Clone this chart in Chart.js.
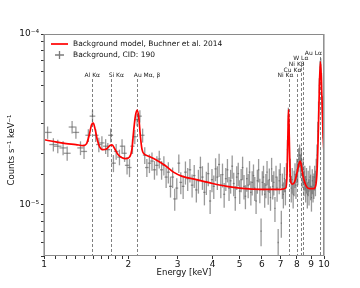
<!DOCTYPE html>
<html>
<head>
<meta charset="utf-8">
<script src="https://cdn.jsdelivr.net/npm/chart.js@4.4.0/dist/chart.umd.min.js"></script>
<style>
  html, body { margin: 0; padding: 0; background: #fff; }
</style>
</head>
<body>
<canvas id="chart" width="360" height="288"></canvas>
<script>
// Spectrum values are in units of 1e-5 counts s^-1 keV^-1
const UNIT = 1e-5;
const BIN_HALF_WIDTH = 0.035;

// Background spectrum (bin centres, keV)
const energy = [
  1.03, 1.08, 1.12, 1.17, 1.21, 1.26, 1.30, 1.35, 1.39, 1.44,
  1.49, 1.53, 1.57, 1.61, 1.66, 1.69, 1.73, 1.77, 1.81, 1.86,
  1.90, 1.94, 1.98, 2.02, 2.07, 2.11, 2.15, 2.20, 2.25, 2.29,
  2.33, 2.38, 2.43, 2.48, 2.53, 2.58, 2.63, 2.68, 2.73, 2.78,
  2.83, 2.88, 2.93, 2.98, 3.03, 3.08,
  3.14, 3.20, 3.26, 3.32, 3.38, 3.44, 3.50, 3.56, 3.62, 3.68,
  3.74, 3.80, 3.86, 3.92, 3.98, 4.04, 4.10, 4.16, 4.22, 4.28,
  4.34, 4.40, 4.46, 4.52, 4.58, 4.64, 4.70, 4.76, 4.82, 4.88,
  4.94, 5.00, 5.06, 5.12, 5.18, 5.24, 5.30, 5.36, 5.42, 5.48,
  5.54, 5.60, 5.66, 5.72, 5.78, 5.84, 5.90, 5.96, 6.02, 6.08,
  6.14, 6.20, 6.26, 6.32, 6.38, 6.44, 6.50, 6.56, 6.62, 6.68,
  6.74, 6.80, 6.86, 6.92, 6.98,
  7.04, 7.10, 7.16, 7.22, 7.28, 7.34, 7.40, 7.46, 7.52, 7.58,
  7.64, 7.70, 7.76, 7.82, 7.88, 7.94, 8.00, 8.06, 8.12, 8.18,
  8.24, 8.30, 8.36, 8.42, 8.48, 8.54, 8.60, 8.66, 8.72, 8.78,
  8.84, 8.90, 8.96, 9.02, 9.08, 9.14, 9.20, 9.26, 9.32, 9.38,
  9.44, 9.50, 9.56, 9.62, 9.68, 9.74, 9.80, 9.86, 9.92, 9.98
];
const counts = [
  2.65, 2.25, 2.20, 2.15, 2.00, 2.85, 2.65, 2.15, 2.05, 2.55,
  3.30, 2.55, 2.25, 2.30, 2.20, 2.10, 2.55, 1.75, 2.05, 1.90,
  2.20, 2.00, 1.70, 1.65, 2.20, 2.50, 3.15, 3.30, 2.55, 1.95,
  1.65, 1.75, 1.80, 1.60, 1.70, 1.85, 1.60, 1.70, 1.45, 1.55,
  1.28, 1.45, 1.08, 1.25, 1.75, 1.35,
  1.28, 1.55, 1.42, 1.60, 1.30, 1.48, 1.22, 1.38, 1.65, 1.45,
  1.18, 1.35, 1.52, 1.05, 1.40, 1.28, 1.62, 1.45, 1.72, 1.30,
  1.50, 1.15, 1.42, 1.60, 1.25, 1.38, 1.68, 1.33, 1.10, 1.45,
  1.52, 1.20, 1.40, 1.65, 1.28, 1.12, 1.42, 1.30, 1.55, 1.18,
  1.35, 1.48, 1.25, 1.05, 1.38, 1.60, 1.22, 0.70, 1.35, 1.45,
  1.15, 1.30, 1.55, 1.20, 1.40, 1.10, 1.62, 1.28, 1.35, 0.95,
  1.45, 1.25, 0.60, 1.38, 1.50,
  0.78, 1.30, 1.15, 1.42, 1.20, 1.50, 2.10, 3.30, 2.60, 1.60,
  1.25, 1.40, 1.15, 1.35, 1.50, 1.30, 1.60, 1.55, 1.85, 1.95,
  1.70, 1.85, 1.50, 1.60, 1.35, 1.45, 1.25, 1.40, 1.15, 1.35,
  1.20, 1.45, 1.28, 1.10, 1.38, 1.25, 1.30, 1.45, 1.35, 1.60,
  1.95, 2.70, 3.60, 5.00, 6.40, 6.60, 5.40, 3.90, 2.80, 2.20
];
const countsErr = [
  0.22, 0.20, 0.20, 0.20, 0.19, 0.24, 0.22, 0.20, 0.20, 0.22,
  0.27, 0.22, 0.22, 0.22, 0.22, 0.20, 0.24, 0.20, 0.22, 0.20,
  0.22, 0.22, 0.20, 0.20, 0.22, 0.24, 0.27, 0.27, 0.24, 0.22,
  0.20, 0.22, 0.22, 0.20, 0.22, 0.22, 0.20, 0.22, 0.20, 0.22,
  0.18, 0.20, 0.16, 0.18, 0.22, 0.20,
  0.20, 0.24, 0.22, 0.25, 0.20, 0.23, 0.19, 0.22, 0.26, 0.23,
  0.19, 0.21, 0.24, 0.17, 0.22, 0.20, 0.25, 0.23, 0.27, 0.21,
  0.24, 0.19, 0.22, 0.25, 0.20, 0.22, 0.26, 0.21, 0.18, 0.23,
  0.24, 0.19, 0.22, 0.26, 0.21, 0.18, 0.23, 0.21, 0.25, 0.19,
  0.22, 0.24, 0.20, 0.17, 0.22, 0.25, 0.20, 0.13, 0.22, 0.24,
  0.19, 0.21, 0.25, 0.20, 0.23, 0.18, 0.26, 0.21, 0.22, 0.16,
  0.24, 0.21, 0.12, 0.23, 0.25,
  0.14, 0.22, 0.20, 0.24, 0.21, 0.25, 0.30, 0.40, 0.35, 0.26,
  0.22, 0.24, 0.20, 0.23, 0.25, 0.22, 0.26, 0.25, 0.29, 0.30,
  0.27, 0.29, 0.25, 0.26, 0.23, 0.24, 0.22, 0.24, 0.20, 0.23,
  0.21, 0.24, 0.22, 0.19, 0.23, 0.22, 0.22, 0.24, 0.23, 0.26,
  0.30, 0.36, 0.42, 0.50, 0.58, 0.60, 0.52, 0.44, 0.36, 0.30
];

// Background model curve
const modelEnergy = [
  1.00, 1.10, 1.20, 1.30, 1.38, 1.42, 1.45, 1.48, 1.50, 1.52,
  1.55, 1.58, 1.62, 1.67, 1.72, 1.75, 1.79, 1.84, 1.90, 1.96,
  2.02, 2.06, 2.09, 2.12, 2.15, 2.18, 2.21, 2.24, 2.28, 2.35,
  2.50, 2.70, 2.90, 3.10, 3.50, 4.00, 4.50, 5.00, 6.00, 7.00,
  7.30, 7.38, 7.43, 7.47, 7.51, 7.56, 7.62, 7.70, 7.80, 7.92,
  8.05, 8.15, 8.22, 8.30, 8.40, 8.50, 8.65, 8.90, 9.20, 9.35,
  9.45, 9.55, 9.63, 9.71, 9.78, 9.85, 9.92, 10.0
];
const modelCounts = [
  2.40, 2.33, 2.28, 2.25, 2.22, 2.28, 2.55, 2.95, 3.00, 2.80,
  2.40, 2.18, 2.10, 2.12, 2.22, 2.24, 2.12, 1.96, 1.88, 1.86,
  1.90, 2.10, 2.70, 3.30, 3.58, 3.25, 2.50, 2.10, 1.98, 1.93,
  1.84, 1.70, 1.55, 1.47, 1.40, 1.33, 1.28, 1.25, 1.23, 1.23,
  1.25, 1.50, 2.50, 3.60, 2.60, 1.60, 1.35, 1.32, 1.33, 1.42,
  1.60, 1.75, 1.80, 1.70, 1.50, 1.38, 1.28, 1.24, 1.24, 1.30,
  1.60, 2.80, 5.00, 6.86, 5.60, 3.80, 2.60, 2.00
];

// Fluorescence lines marked on the plot
const lineEnergies = [1.487, 1.740, 2.15, 7.47, 8.04, 8.26, 8.40, 9.71];
const lineNames = ['Al Kα', 'Si Kα', 'Au Mα, β', 'Ni Kα', 'Cu Kα', 'Ni Kβ', 'W Lα', 'Au Lα'];

// label placement (pixels)
const LABEL_Y = [75, 75, 75, 75, 70, 64, 58, 53];
const LABEL_DX = [0, 5, 10, -3, -5, -4, -2, -7];

const FONT = '"DejaVu Sans", "Liberation Sans", sans-serif';

const superscripts = { '-': '⁻', '0': '⁰', '1': '¹', '2': '²', '3': '³', '4': '⁴', '5': '⁵', '6': '⁶', '7': '⁷', '8': '⁸', '9': '⁹' };
function powerLabel(p) {
    return '10' + String(p).split('').map(c => superscripts[c]).join('');
}

const spectrumPlugin = {
    id: 'spectrum',
    beforeDatasetsDraw(chart) {
        const ctx = chart.ctx;
        const xs = chart.scales.x, ys = chart.scales.y;
        const a = chart.chartArea;
        ctx.save();
        ctx.beginPath();
        ctx.rect(a.left, a.top, a.right - a.left, a.bottom - a.top);
        ctx.clip();

        // dashed line markers
        ctx.strokeStyle = '#808080';
        ctx.lineWidth = 1;
        ctx.setLineDash([3, 2]);
        lineEnergies.forEach((e, i) => {
            const x = Math.round(xs.getPixelForValue(e)) + 0.5;
            ctx.beginPath();
            ctx.moveTo(x, LABEL_Y[i] + 4);
            ctx.lineTo(x, a.bottom);
            ctx.stroke();
        });
        ctx.setLineDash([]);

        // data crosses: bin width and error bar
        ctx.strokeStyle = 'rgba(90,90,90,0.62)';
        ctx.lineWidth = 1.3;
        energy.forEach((e, i) => {
            const x = xs.getPixelForValue(e);
            const y = ys.getPixelForValue(counts[i] * UNIT);
            const y0 = ys.getPixelForValue((counts[i] - countsErr[i]) * UNIT);
            const y1 = ys.getPixelForValue((counts[i] + countsErr[i]) * UNIT);
            ctx.beginPath();
            ctx.moveTo(xs.getPixelForValue(e - BIN_HALF_WIDTH), y);
            ctx.lineTo(xs.getPixelForValue(e + BIN_HALF_WIDTH), y);
            ctx.stroke();
            ctx.beginPath();
            ctx.moveTo(x, y0);
            ctx.lineTo(x, y1);
            ctx.stroke();
        });
        ctx.restore();
    },
    afterDraw(chart) {
        const ctx = chart.ctx;
        const xs = chart.scales.x;
        const a = chart.chartArea;
        ctx.save();

        // frame
        ctx.strokeStyle = '#8a8a8a';
        ctx.lineWidth = 1;
        ctx.strokeRect(a.left + 0.5, a.top + 0.5, a.right - a.left - 1, a.bottom - a.top - 1);
        ctx.strokeStyle = 'rgba(150,150,150,0.6)';
        ctx.lineWidth = 2;
        ctx.beginPath();
        ctx.moveTo(a.left, a.top); ctx.lineTo(a.left, a.bottom);
        ctx.moveTo(a.right, a.top); ctx.lineTo(a.right, a.bottom);
        ctx.stroke();

        // line labels
        ctx.fillStyle = '#222';
        ctx.font = '6px ' + FONT;
        ctx.textAlign = 'center';
        ctx.textBaseline = 'middle';
        lineNames.forEach((name, i) => {
            const w = ctx.measureText(name).width;
            let x = xs.getPixelForValue(lineEnergies[i]) + LABEL_DX[i];
            x = Math.min(x, a.right - w / 2 - 1);
            ctx.fillText(name, x, LABEL_Y[i]);
        });

        // legend
        ctx.strokeStyle = '#ff0000';
        ctx.lineWidth = 1.7;
        ctx.beginPath();
        ctx.moveTo(a.left + 7, a.top + 10);
        ctx.lineTo(a.left + 24, a.top + 10);
        ctx.stroke();
        ctx.strokeStyle = 'rgba(90,90,90,0.8)';
        ctx.lineWidth = 1.3;
        ctx.beginPath();
        ctx.moveTo(a.left + 11, a.top + 21);
        ctx.lineTo(a.left + 20, a.top + 21);
        ctx.moveTo(a.left + 15.5, a.top + 17);
        ctx.lineTo(a.left + 15.5, a.top + 25);
        ctx.stroke();
        ctx.fillStyle = '#111';
        ctx.font = '7.5px ' + FONT;
        ctx.textAlign = 'left';
        ctx.fillText('Background model, Buchner et al. 2014', a.left + 29, a.top + 10);
        ctx.fillText('Background, CID: 190', a.left + 29, a.top + 21);

        // axis titles
        ctx.font = '8.5px ' + FONT;
        ctx.textAlign = 'center';
        ctx.fillText('Energy [keV]', (a.left + a.right) / 2, 273);
        ctx.translate(12, 150);
        ctx.rotate(-Math.PI / 2);
        ctx.fillText('Counts s⁻¹ keV⁻¹', 0, 0);
        ctx.restore();
    }
};

new Chart(document.getElementById('chart'), {
    type: 'scatter',
    data: {
        datasets: [
            {
                label: 'Background model, Buchner et al. 2014',
                data: modelEnergy.map((e, i) => ({ x: e, y: modelCounts[i] * UNIT })),
                showLine: true,
                borderColor: '#ff0000',
                borderWidth: 1.7,
                pointRadius: 0,
                cubicInterpolationMode: 'monotone'
            },
            {
                label: 'Background, CID: 190',
                data: energy.map((e, i) => ({ x: e, y: counts[i] * UNIT })),
                pointRadius: 0
            }
        ]
    },
    options: {
        responsive: false,
        animation: false,
        layout: { padding: { left: 0, right: 36, top: 34, bottom: 0 } },
        plugins: { legend: { display: false }, tooltip: { enabled: false } },
        scales: {
            x: {
                type: 'logarithmic',
                min: 1,
                max: 10,
                afterFit(s) { s.height = 32; },
                border: { display: false },
                grid: { drawOnChartArea: false, drawTicks: true, tickLength: 3, color: '#333' },
                ticks: {
                    autoSkip: false,
                    maxRotation: 0,
                    padding: 0,
                    color: '#111',
                    font: { family: FONT, size: 9 },
                    callback: v => Math.abs(v - Math.round(v)) < 1e-9 ? String(Math.round(v)) : ''
                }
            },
            y: {
                type: 'logarithmic',
                min: 5e-6,
                max: 1e-4,
                afterFit(s) { s.width = 44; },
                border: { display: false },
                grid: { drawOnChartArea: false, drawTicks: true, tickLength: 3, color: '#333' },
                ticks: {
                    autoSkip: false,
                    padding: 2,
                    color: '#111',
                    font: { family: FONT, size: 9 },
                    callback: v => {
                        const p = Math.log10(v);
                        return Math.abs(p - Math.round(p)) < 1e-6 ? powerLabel(Math.round(p)) : '';
                    }
                }
            }
        }
    },
    plugins: [spectrumPlugin]
});
</script>
</body>
</html>
